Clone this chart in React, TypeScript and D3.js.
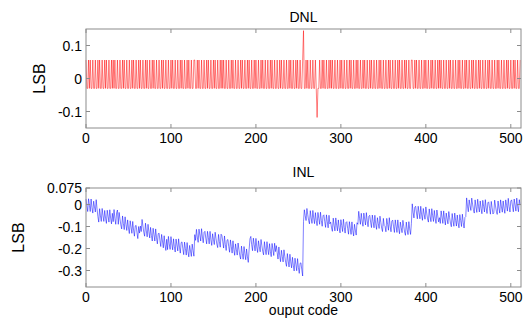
import React from "react";
import * as d3 from "d3";

// ---------- data ----------
const X_TICKS = [0, 100, 200, 300, 400, 500];
const X_TICK_LABELS = ["0", "100", "200", "300", "400", "500"];

const DNL_Y_TICKS = [-0.1, 0, 0.1];
const DNL_Y_TICK_LABELS = ["-0.1", "0", "0.1"];

const INL_Y_TICKS = [-0.3, -0.2, -0.1, 0, 0.075];
const INL_Y_TICK_LABELS = ["-0.3", "-0.2", "-0.1", "0", "0.075"];

// DNL level per code: H = high step, L = low step, P = positive spike, N = negative spike
const DNL_LEVELS: Record<string, number> = { H: 0.056, L: -0.03, P: 0.145, N: -0.118 };
const DNL_PATTERN = [
  "HLLHLHLLHLLHLLHLHLLHLLHLHLLHLLHL",
  "HLHLLHLLHLLHLHLLHLLHLLHLHLLHLLHL",
  "HLLHLLHLHLLHLLHLHLLHLLHLLHLHLLHL",
  "LHLLHLHLLHLLHLLHLHLLHLLHLHLLHLLH",
  "HLLHLHLLHLLHLLHLHLLHLLHLHLLHLLHL",
  "HLHLLHLLHLLHLHLLHLLHLLHLHLLHLLHL",
  "HLLHLLHLHLLHLLHLHLLHLLHLLHLHLLHL",
  "LHLLHLHLLHLLHLLHLHLLHLLHLHLLHLLH",
  "PLLHLHLLHLLHLLHLNLLHLLHLHLLHLLHL",
  "HLHLLHLLHLLHLHLLHLLHLLHLHLLHLLHL",
  "HLLHLLHLHLLHLLHLHLLHLLHLLHLHLLHL",
  "LHLLHLHLLHLLHLLHLHLLHLLHLHLLHLLH",
  "HLLHLHLLHLLHLLHLHLLHLLHLHLLHLLHL",
  "HLHLLHLLHLLHLHLLHLLHLLHLHLLHLLHL",
  "HLLHLLHLHLLHLLHLHLLHLLHLLHLHLLHL",
  "LHLLHLHLLHLLHLLHLHLLHLLHLHLLHLLH",
].join("");

// INL per code, in thousandths of an LSB
const INL_MILLI = [
  25,-6,-32,26,-3,-32,25,-14,-39,15,-11,-34,22,-20,-55,-80,-19,-52,-77,-18,-51,-77,-27,-62,-86,-26,-53,-80,-24,-62,-88,-40,
  -78,-23,-63,-90,-38,-25,-90,-36,-66,-93,-111,-52,-87,-114,-56,-91,-118,-70,-107,-132,-74,-102,-131,-77,-116,-144,-97,-95,-128,-155,-100,-130,
  -98,-123,-68,-98,-126,-144,-85,-120,-147,-90,-124,-152,-104,-141,-166,-108,-137,-166,-111,-151,-179,-133,-130,-163,-191,-136,-166,-197,-142,-183,-209,-158,
  -205,-145,-179,-204,-146,-179,-206,-156,-192,-216,-157,-184,-211,-156,-194,-221,-173,-170,-201,-228,-171,-200,-230,-173,-213,-238,-186,-212,-236,-180,-209,-235,
  -137,-163,-113,-148,-172,-112,-139,-166,-110,-148,-174,-126,-122,-153,-179,-122,-150,-179,-122,-161,-186,-133,-159,-182,-126,-154,-180,-196,-136,-169,-194,-135,
  -142,-170,-198,-143,-182,-209,-162,-159,-191,-217,-161,-191,-221,-165,-205,-231,-179,-206,-230,-175,-204,-231,-248,-189,-223,-249,-191,-224,-251,-202,-238,-263,
  -204,-156,-145,-183,-210,-153,-182,-211,-154,-193,-218,-165,-192,-215,-159,-187,-213,-229,-169,-202,-228,-169,-202,-228,-178,-213,-237,-177,-205,-232,-176,-214,
  -187,-218,-248,-193,-233,-260,-208,-236,-261,-206,-236,-263,-281,-223,-257,-284,-226,-261,-288,-240,-276,-302,-244,-272,-301,-246,-286,-313,-267,-265,-297,-325,
  -77,-24,-50,-73,-18,-46,-72,-88,-28,-61,-86,-27,-61,-87,-37,-72,-96,-36,-63,-90,-35,-73,-99,-51,-47,-78,-104,-47,-77,-106,-49,-88,
  -80,-106,-122,-62,-95,-120,-61,-94,-120,-70,-105,-129,-69,-96,-123,-67,-104,-130,-82,-78,-109,-135,-78,-107,-136,-79,-118,-143,-90,-116,-139,-83,
  -90,-31,-64,-90,-40,-75,-99,-39,-66,-93,-37,-75,-101,-53,-49,-80,-105,-48,-77,-106,-49,-88,-113,-60,-86,-109,-53,-81,-107,-123,-63,-96,
  -100,-124,-63,-90,-117,-60,-98,-124,-75,-71,-101,-127,-70,-98,-127,-70,-108,-133,-80,-105,-128,-72,-99,-125,-140,-80,-113,-137,-78,-111,-136,-86,
  3,-35,-61,-12,-8,-39,-65,-8,-36,-65,-8,-47,-72,-18,-44,-67,-11,-39,-65,-80,-20,-53,-78,-19,-51,-77,-27,-62,-86,-25,-52,-79,
  -60,-86,-29,-57,-86,-29,-68,-93,-39,-65,-88,-32,-60,-85,-101,-41,-74,-99,-39,-72,-98,-48,-83,-106,-46,-73,-100,-44,-81,-107,-59,-55,
  30,-8,-33,21,-5,-27,29,2,-24,-39,21,-11,-36,24,-9,-34,16,-18,-42,19,-8,-34,22,-15,-41,8,12,-18,-44,14,-15,-43,
  -37,20,-6,-31,-45,16,-16,-39,21,-11,-35,16,-17,-40,21,-4,-30,28,-9,-34,16,21,-8,-33,25,-2,-30,29,-9,-33,22,-3,
];

// ---------- drawing ----------
const FONT = "'Liberation Sans', Arial, Helvetica, sans-serif";
const AXIS_COLOR = "#8c8c8c";

type PanelProps = {
  values: number[];
  color: string;
  yDomain: [number, number];
  top: number;
  bottom: number;
  yTicks: number[];
  yTickLabels: string[];
  title: string;
  titleY: number;
  ylabelX: number;
  xlabel?: string;
};

const LEFT = 86;
const RIGHT = 521;
const TICK = 4;

function Panel(p: PanelProps) {
  const x = d3.scaleLinear().domain([0, 512]).range([LEFT, RIGHT]);
  const y = d3.scaleLinear().domain(p.yDomain).range([p.bottom, p.top]);
  const line = d3
    .line<number>()
    .x((_, i) => x(i))
    .y((d) => y(d));
  const midY = (p.top + p.bottom) / 2;
  const midX = (LEFT + RIGHT) / 2;
  return (
    <g>
      <path d={line(p.values) || ""} fill="none" stroke={p.color} strokeWidth={0.5} />
      <rect x={LEFT} y={p.top} width={RIGHT - LEFT} height={p.bottom - p.top} fill="none" stroke={AXIS_COLOR} strokeWidth={1} />
      {X_TICKS.map((t, i) => (
        <g key={"x" + i}>
          <line x1={x(t)} x2={x(t)} y1={p.bottom} y2={p.bottom - TICK} stroke={AXIS_COLOR} />
          <line x1={x(t)} x2={x(t)} y1={p.top} y2={p.top + TICK} stroke={AXIS_COLOR} />
          <text x={x(t)} y={p.bottom + 15} textAnchor="middle" fontSize={14} fontFamily={FONT} fill="#000">
            {X_TICK_LABELS[i]}
          </text>
        </g>
      ))}
      {p.yTicks.map((t, i) => (
        <g key={"y" + i}>
          <line x1={LEFT} x2={LEFT + TICK} y1={y(t)} y2={y(t)} stroke={AXIS_COLOR} />
          <line x1={RIGHT} x2={RIGHT - TICK} y1={y(t)} y2={y(t)} stroke={AXIS_COLOR} />
          <text x={LEFT - 4} y={y(t) + 5} textAnchor="end" fontSize={14} fontFamily={FONT} fill="#000">
            {p.yTickLabels[i]}
          </text>
        </g>
      ))}
      <text x={midX} y={p.titleY} textAnchor="middle" fontSize={14} fontFamily={FONT} fill="#000">
        {p.title}
      </text>
      <text
        transform={`translate(${p.ylabelX},${midY}) rotate(-90)`}
        textAnchor="middle"
        fontSize={16}
        fontFamily={FONT}
        fill="#000"
      >
        LSB
      </text>
      {p.xlabel && (
        <text x={midX} y={p.bottom + 28} textAnchor="middle" fontSize={14} fontFamily={FONT} fill="#000">
          {p.xlabel}
        </text>
      )}
    </g>
  );
}

export default function App() {
  const dnl = DNL_PATTERN.split("").map((c) => DNL_LEVELS[c]);
  const inl = INL_MILLI.map((v) => v / 1000);
  return (
    <svg
      width={527}
      height={320}
      style={{ position: "absolute", left: 0, top: 0, background: "#fff" }}
    >
      <rect width={527} height={320} fill="#fff" />
      <Panel
        values={dnl}
        color="#ff0000"
        yDomain={[-0.15, 0.15]}
        top={29}
        bottom={128}
        yTicks={DNL_Y_TICKS}
        yTickLabels={DNL_Y_TICK_LABELS}
        title="DNL"
        titleY={22}
        ylabelX={45}
      />
      <Panel
        values={inl}
        color="#0000ff"
        yDomain={[-0.375, 0.075]}
        top={188}
        bottom={287}
        yTicks={INL_Y_TICKS}
        yTickLabels={INL_Y_TICK_LABELS}
        title="INL"
        titleY={177}
        ylabelX={24}
        xlabel="ouput code"
      />
    </svg>
  );
}
